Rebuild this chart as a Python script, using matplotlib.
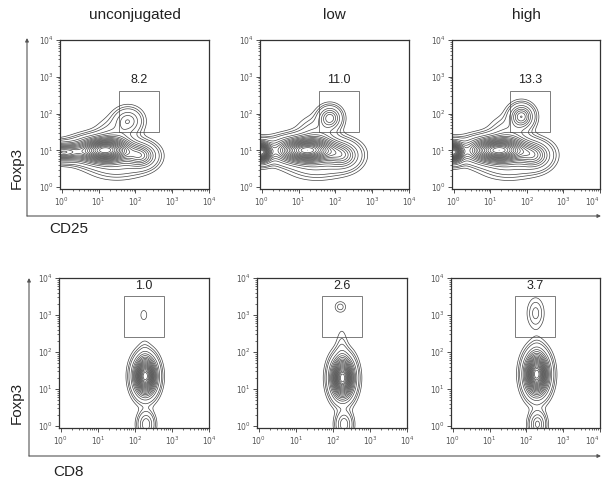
import numpy as np
import matplotlib
matplotlib.use('Agg')
from matplotlib import pyplot as plt
from matplotlib.patches import Rectangle

plt.rcParams['font.family'] = ['Liberation Sans', 'DejaVu Sans']

# column titles and gate percentages
titles = ['unconjugated', 'low', 'high']
cd25_gate_pct = ['8.2', '11.0', '13.3']
cd8_gate_pct = ['1.0', '2.6', '3.7']

# gate rectangles in log10 units: (x0, x1, y0, y1)
cd25_gate = (1.55, 2.63, 1.5, 2.62)
cd8_gate = (1.7, 2.78, 2.4, 3.52)

# populations: log10 centre x, y, spread x, y, weight
# order: left edge, main, Treg, CD25-high/Foxp3-low, bridge, low skirt
cd25_pops = [
    # unconjugated
    {'cx': [0.0, 1.15, 1.8, 2.15, 1.45, 1.5], 'cy': [0.95, 1.0, 1.8, 0.85, 1.3, 0.55],
     'sx': [0.35, 0.45, 0.22, 0.25, 0.3, 0.45], 'sy': [0.14, 0.2, 0.2, 0.19, 0.3, 0.2],
     'w': [0.6, 1.0, 0.2, 0.35, 0.12, 0.08]},
    # low
    {'cx': [-0.02, 1.2, 1.85, 2.2, 1.5, 1.5], 'cy': [0.95, 1.0, 1.88, 0.85, 1.35, 0.55],
     'sx': [0.16, 0.5, 0.18, 0.27, 0.3, 0.45], 'sy': [0.16, 0.2, 0.18, 0.21, 0.3, 0.2],
     'w': [0.95, 0.9, 0.28, 0.28, 0.12, 0.08]},
    # high
    {'cx': [-0.02, 1.2, 1.85, 2.2, 1.5, 1.5], 'cy': [0.95, 1.0, 1.92, 0.85, 1.35, 0.55],
     'sx': [0.16, 0.5, 0.19, 0.27, 0.3, 0.45], 'sy': [0.16, 0.2, 0.19, 0.21, 0.3, 0.2],
     'w': [0.95, 0.9, 0.34, 0.3, 0.12, 0.08]},
]
# order: main, bottom mode, gated cells, upper tail
cd8_pops = [
    {'cx': [2.28, 2.3, 2.24, 2.26], 'cy': [1.35, 0.05, 3.0, 1.9],
     'sx': [0.18, 0.13, 0.09, 0.1], 'sy': [0.3, 0.2, 0.14, 0.3], 'w': [1.0, 0.2, 0.022, 0.02]},
    {'cx': [2.26, 2.3, 2.2, 2.24], 'cy': [1.3, 0.05, 3.22, 2.1],
     'sx': [0.18, 0.13, 0.1, 0.1], 'sy': [0.32, 0.2, 0.1, 0.35], 'w': [1.0, 0.2, 0.04, 0.035]},
    {'cx': [2.28, 2.3, 2.25, 2.28], 'cy': [1.4, 0.05, 3.05, 1.9],
     'sx': [0.19, 0.13, 0.14, 0.12], 'sy': [0.33, 0.2, 0.25, 0.3], 'w': [1.0, 0.22, 0.06, 0.025]},
]

decades = [0, 1, 2, 3, 4]
LO, HI = -0.05, 4.0

W, H = 603, 484
fig = plt.figure(figsize=(W / 100, H / 100), dpi=100)


def px_axes(left, top, right, bottom):
    return fig.add_axes([left / W, 1 - bottom / H, (right - left) / W, (bottom - top) / H])


def density(pop, gx, gy):
    z = np.zeros_like(gx)
    for cx, cy, sx, sy, w in zip(pop['cx'], pop['cy'], pop['sx'], pop['sy'], pop['w']):
        z += w * np.exp(-0.5 * (((gx - cx) / sx) ** 2 + ((gy - cy) / sy) ** 2))
    return z


def style_axes(ax, last_col):
    ax.set_xlim(LO, HI)
    ax.set_ylim(LO, HI)
    minor = [k + np.log10(m) for k in range(4) for m in range(2, 10)]
    ax.set_xticks(decades)
    ax.set_yticks(decades)
    ax.set_xticks(minor, minor=True)
    ax.set_yticks(minor, minor=True)
    labels = ['$10^{%d}$' % d for d in decades]
    ax.set_xticklabels(labels)
    ax.set_yticklabels(labels)
    ax.tick_params(which='major', direction='out', length=3, width=0.6,
                   labelsize=5.5, labelcolor='#555555', color='#333333', pad=1.5)
    ax.tick_params(which='minor', direction='out', length=1.5, width=0.5, color='#333333')
    if last_col:
        ax.get_xticklabels()[-1].set_horizontalalignment('right')
    for s in ax.spines.values():
        s.set_color('#333333')
        s.set_linewidth(0.9)


def levels(z):
    # probability-style contour levels, plus two outlier levels
    return z.max() * np.concatenate([[0.015, 0.03], np.linspace(0.05, 0.95, 19)])


gx, gy = np.meshgrid(np.linspace(LO, HI, 400), np.linspace(LO, HI, 400))

top_lefts = [(60, 209), (260, 409), (452, 600)]
bot_lefts = [(59, 209), (257, 407), (451, 600)]

for i in range(3):
    # CD25 vs Foxp3
    ax = px_axes(top_lefts[i][0], 40, top_lefts[i][1], 189)
    style_axes(ax, i == 2)
    z = density(cd25_pops[i], gx, gy)
    ax.contour(gx, gy, z, levels=levels(z), colors='#444444', linewidths=0.5)
    x0, x1, y0, y1 = cd25_gate
    ax.add_patch(Rectangle((x0, y0), x1 - x0, y1 - y0, fill=False, ec='#666666', lw=0.6))
    ax.text((x0 + x1) / 2, y1 + 0.12, cd25_gate_pct[i], ha='center', va='bottom',
            fontsize=9, color='#222222')
    fig.text((top_lefts[i][0] + top_lefts[i][1]) / 2 / W, 1 - 15 / H, titles[i],
             ha='center', va='center', fontsize=11, color='#222222')

    # CD8 vs Foxp3
    ax = px_axes(bot_lefts[i][0], 278, bot_lefts[i][1], 428)
    style_axes(ax, i == 2)
    z = density(cd8_pops[i], gx, gy)
    ax.contour(gx, gy, z, levels=levels(z), colors='#444444', linewidths=0.5)
    x0, x1, y0, y1 = cd8_gate
    ax.add_patch(Rectangle((x0, y0), x1 - x0, y1 - y0, fill=False, ec='#666666', lw=0.6))
    ax.text((x0 + x1) / 2, y1 + 0.1, cd8_gate_pct[i], ha='center', va='bottom',
            fontsize=9, color='#222222')


def frame_arrows(x, ytop, ybot, xright):
    # vertical arrow up and horizontal arrow right, in figure pixels (image coords)
    kw = dict(xycoords='figure fraction', textcoords='figure fraction',
              arrowprops=dict(arrowstyle='-|>', color='#555555', lw=0.8,
                              mutation_scale=5, shrinkA=0, shrinkB=0))
    fig.axes[0].annotate('', xy=(x / W, 1 - ytop / H), xytext=(x / W, 1 - ybot / H), **kw)
    fig.axes[0].annotate('', xy=(xright / W, 1 - ybot / H), xytext=(x / W, 1 - ybot / H), **kw)


frame_arrows(27, 38, 216, 601)
frame_arrows(29, 278, 456, 601)

fig.text(17 / W, 1 - 168 / H, 'Foxp3', rotation=90, ha='center', va='center',
         fontsize=11, color='#222222')
fig.text(17 / W, 1 - 403 / H, 'Foxp3', rotation=90, ha='center', va='center',
         fontsize=11, color='#222222')
fig.text(49 / W, 1 - 229 / H, 'CD25', ha='left', va='center', fontsize=11, color='#222222')
fig.text(53 / W, 1 - 472 / H, 'CD8', ha='left', va='center', fontsize=11, color='#222222')

plt.savefig('out.png', dpi=100)
